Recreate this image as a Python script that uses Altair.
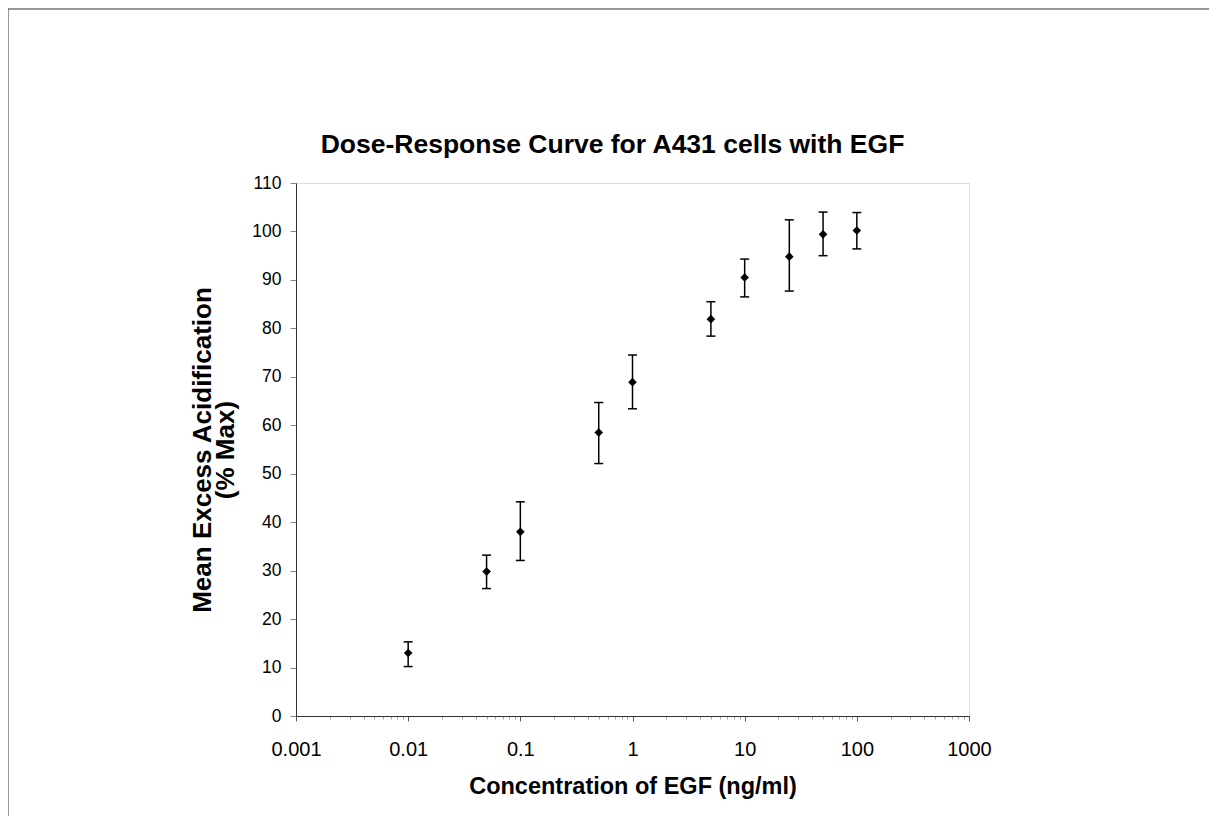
import altair as alt
import pandas as pd

# Data
concentration = [0.01, 0.05, 0.1, 0.5, 1, 5, 10, 25, 50, 100]
mean_response = [13.0, 29.8, 38.0, 58.5, 68.9, 81.9, 90.5, 94.8, 99.4, 100.2]
upper_err = [15.3, 33.2, 44.2, 64.7, 74.5, 85.5, 94.3, 102.4, 104.0, 103.9]
lower_err = [10.2, 26.3, 32.1, 52.1, 63.4, 78.4, 86.5, 87.7, 95.0, 96.4]

major_ticks = [0.001, 0.01, 0.1, 1, 10, 100, 1000]
minor_mult = [2, 3, 4, 5, 6, 7, 8, 9]
y_ticks = list(range(0, 111, 10))

df = pd.DataFrame({
    "conc": concentration,
    "mean": mean_response,
    "upper": upper_err,
    "lower": lower_err,
})

tick_values = sorted(major_ticks + [m * d for d in major_ticks[:-1] for m in minor_mult])
is_pow = "abs(log(datum.value)/LN10 - round(log(datum.value)/LN10)) < 1e-6"

FONT = "Liberation Sans"

x_scale = alt.Scale(type="log", domain=[0.001, 1000], nice=False)
y_scale = alt.Scale(domain=[0, 110], nice=False)

x_axis = alt.Axis(
    values=tick_values,
    labelExpr=is_pow + " ? format(datum.value, '~g') : ''",
    labelOverlap=False,
    labelFlush=False,
    labelBound=False,
    grid=False,
    tickSize={"condition": {"test": is_pow, "value": 5}, "value": 3},
    tickColor={"condition": {"test": is_pow, "value": "#555555"}, "value": "#aaaaaa"},
    title="Concentration of EGF (ng/ml)",
    titleFont=FONT, titleFontSize=23.5, titleFontWeight="bold", titleColor="black",
    titlePadding=15,
    labelFont=FONT, labelFontSize=20, labelColor="black", labelPadding=18,
    domainColor="#333333",
)
y_axis = alt.Axis(
    values=y_ticks,
    grid=False,
    tickSize=6,
    tickColor="#888888",
    title=["Mean Excess Acidification", "(% Max)"],
    titleFont=FONT, titleFontSize=26, titleFontWeight="bold", titleColor="black",
    titleLineHeight=23,
    titlePadding=13,
    labelFont=FONT, labelFontSize=17.5, labelColor="black", labelPadding=9,
    domainColor="#333333",
)

X = alt.X("conc:Q", scale=x_scale, axis=x_axis)

base = alt.Chart(df)

bars = base.mark_rule(color="black", strokeWidth=1.5).encode(
    x=X,
    y=alt.Y("lower:Q", scale=y_scale, axis=y_axis),
    y2="upper:Q",
)
cap_hi = base.mark_tick(orient="horizontal", color="black", thickness=1.5, size=9, opacity=1).encode(
    x=X, y=alt.Y("upper:Q", scale=y_scale, axis=y_axis)
)
cap_lo = base.mark_tick(orient="horizontal", color="black", thickness=1.5, size=9, opacity=1).encode(
    x=X, y=alt.Y("lower:Q", scale=y_scale, axis=y_axis)
)
points = base.mark_point(shape="diamond", filled=True, color="black", size=75, opacity=1).encode(
    x=X, y=alt.Y("mean:Q", scale=y_scale, axis=y_axis)
)

frame_df = pd.DataFrame({"k": [0]})
frame_left = alt.Chart(frame_df).mark_rule(color="#777777", strokeWidth=1.5).encode(
    x=alt.value(-288), y=alt.value(-175), y2=alt.value(640)
)
frame_top = alt.Chart(frame_df).mark_rule(color="#777777", strokeWidth=1.5).encode(
    x=alt.value(-288), x2=alt.value(913), y=alt.value(-174)
)

chart = alt.layer(frame_left, frame_top, bars, cap_hi, cap_lo, points).properties(
    width=673,
    height=533,
    autosize=alt.AutoSizeParams(type="none"),
    padding={"left": 288, "top": 175, "right": 240, "bottom": 100},
    title=alt.TitleParams(
        "Dose-Response Curve for A431 cells with EGF",
        font=FONT, fontSize=26.5, fontWeight="bold", color="black",
        anchor="middle", frame="group", baseline="alphabetic", offset=-172.5, dx=-20,
    ),
).configure_view(stroke="#444444", strokeWidth=1.2).configure(background="white")

chart.save("out.html", embed_options={"renderer": "svg", "actions": False})
